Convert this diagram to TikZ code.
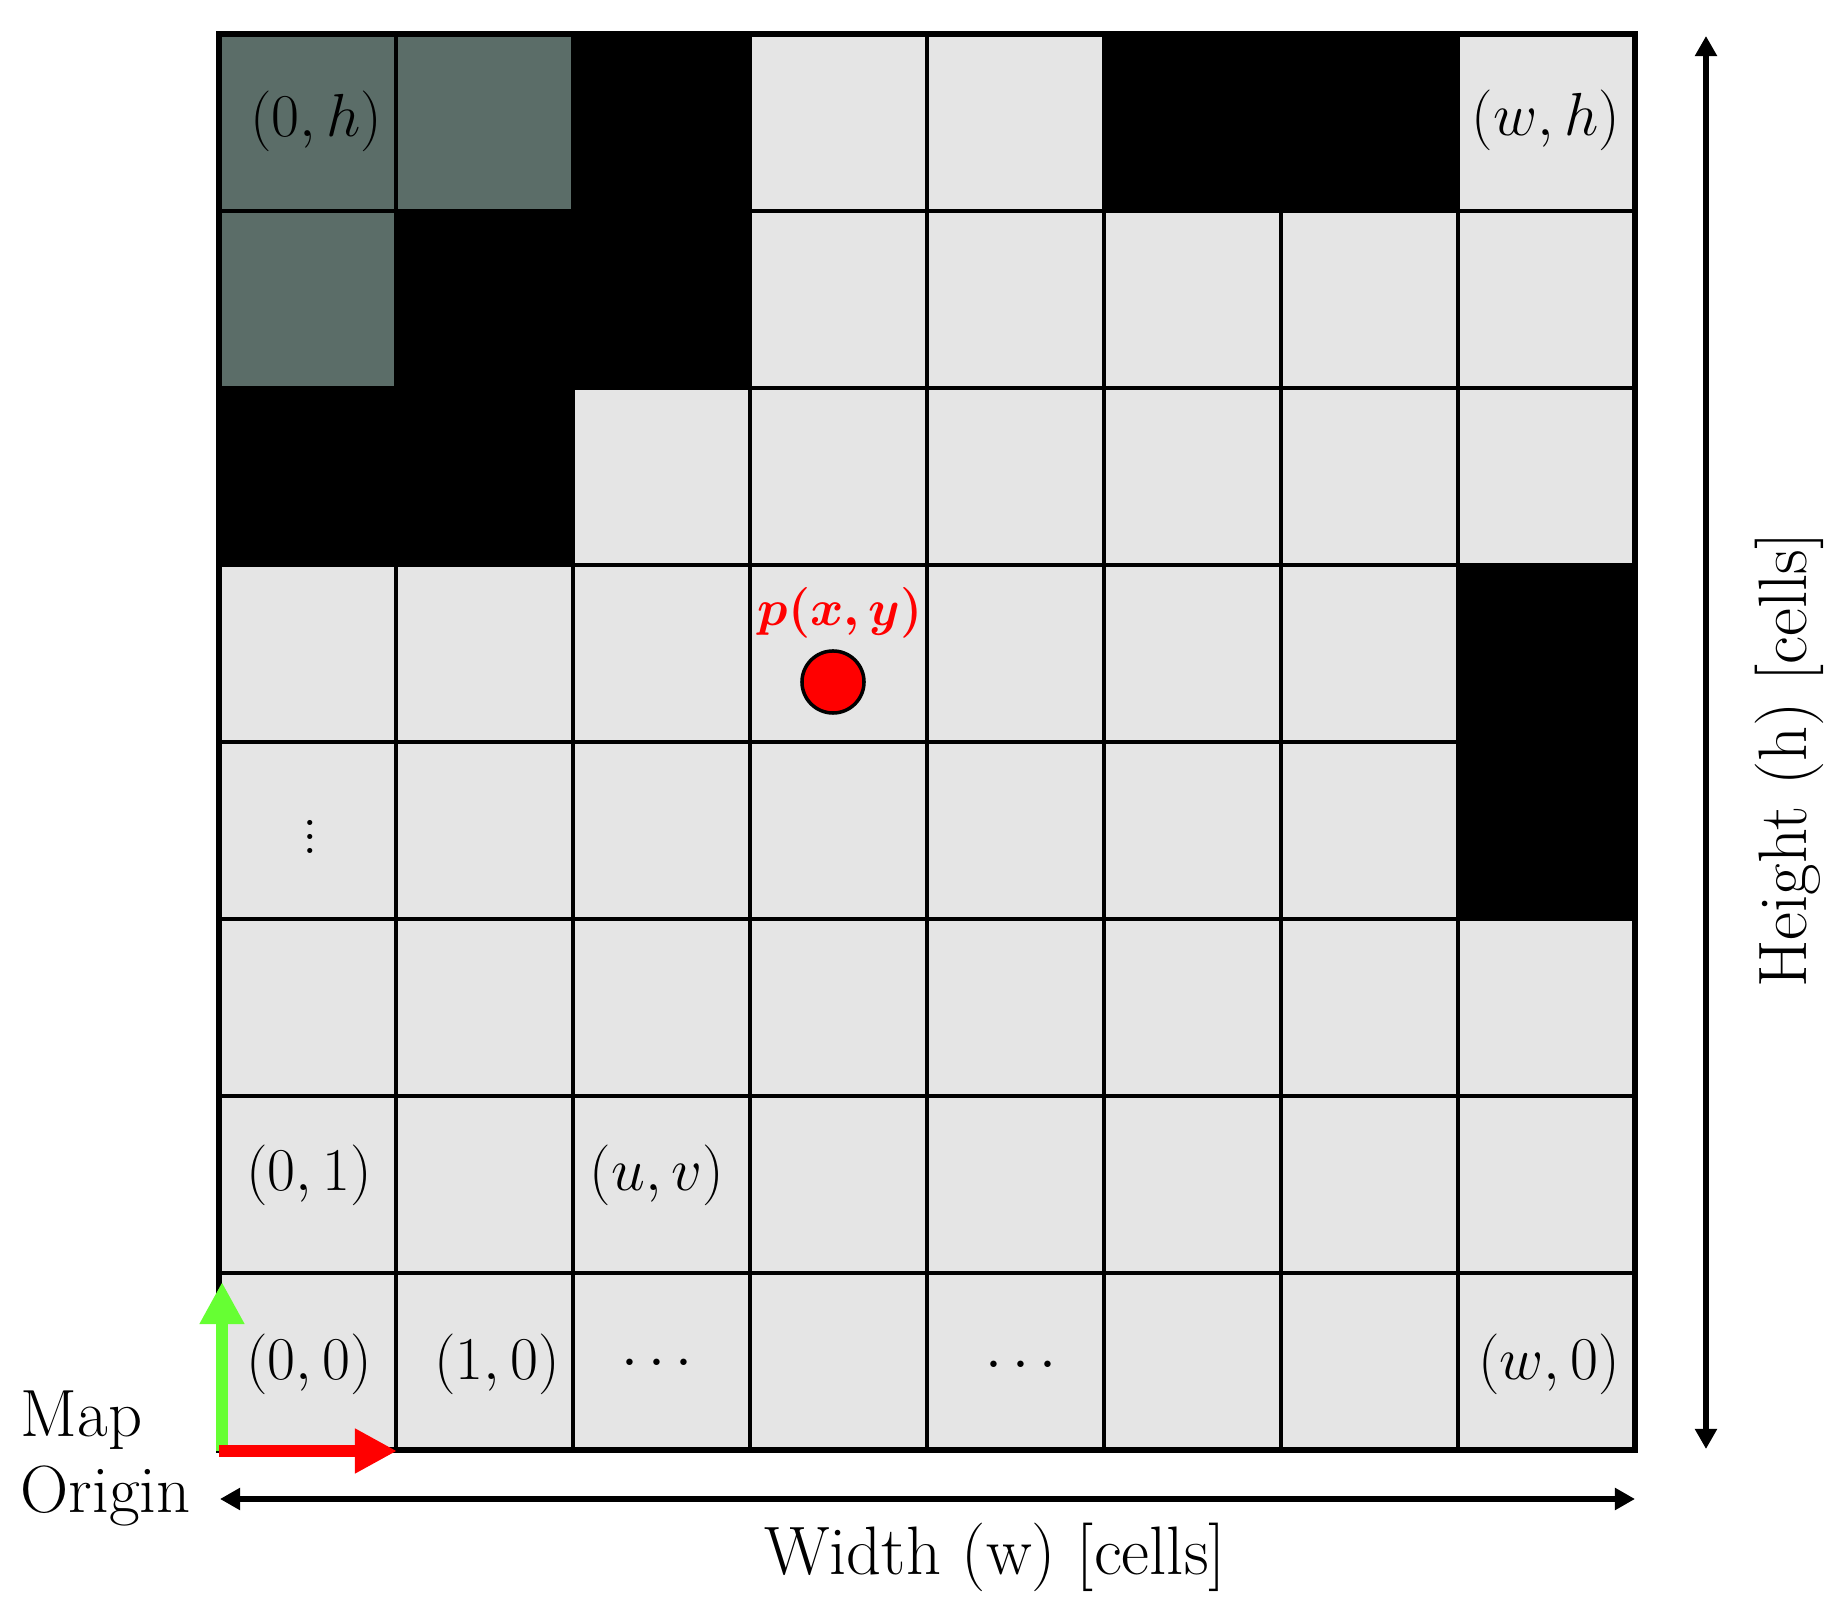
\documentclass[tikz,border=0pt]{standalone}
\usepackage{bm}
\usetikzlibrary{arrows.meta}
\definecolor{cellgray}{RGB}{229,229,229}
\definecolor{slategray}{RGB}{91,109,104}
\definecolor{axisgreen}{RGB}{102,255,51}
\begin{document}
\begin{tikzpicture}[x=0.01cm,y=-0.01cm,
  gridline/.style={line width=1.1pt,black},
  outerline/.style={line width=1.5pt,black},
  celllabel/.style={inner sep=0pt,font=\fontsize{17.6}{21}\selectfont},
  biglabel/.style={inner sep=0pt,font=\fontsize{19.5}{23}\selectfont},
  dimarrow/.style={line width=1.6pt,{Triangle[length=0.2cm,width=0.21cm]}-{Triangle[length=0.2cm,width=0.21cm]}},
  axisarrow/.style={line width=0.12cm,-{Triangle[length=0.42cm,width=0.42cm]}}]
\useasboundingbox (0,0) rectangle (1847,1616);
% background cells
\fill[cellgray] (219,34) rectangle (1635,1450);
% occupied cells
\foreach \c/\r in {2/0,5/0,6/0,1/1,2/1,0/2,1/2,7/3,7/4}
  \fill[black] ({219+177*\c},{34+177*\r}) rectangle +(177,177);
% visited cells
\foreach \c/\r in {0/0,1/0,0/1}
  \fill[slategray] ({219+177*\c},{34+177*\r}) rectangle +(177,177);
% grid lines
\foreach \i in {1,...,7} {
  \draw[gridline] ({219+177*\i},34) -- ({219+177*\i},1450);
  \draw[gridline] (219,{34+177*\i}) -- (1635,{34+177*\i});
}
\draw[outerline] (219,34) rectangle (1635,1450);
% cell labels
\node[celllabel] (l0h) at (316,121) {$(0,h)$};
\node[celllabel] (lwh) at (1546,120) {$(w,h)$};
\node[celllabel] (lvd) at (310,826) {$\vdots$};
\node[celllabel] (l01) at (309,1175) {$(0,1)$};
\node[celllabel] (luv) at (657,1175) {$(u,v)$};
\node[celllabel] (l00) at (309,1364) {$(0,0)$};
\node[celllabel] (l10) at (497,1364) {$(1,0)$};
\node[celllabel] (ld1) at (657,1364) {$\cdots$};
\node[celllabel] (ld2) at (1021,1366) {$\cdots$};
\node[celllabel] (lw0) at (1549,1364) {$(w,0)$};
% point
\node[inner sep=0pt,font=\fontsize{15.8}{19}\selectfont,text=red] (plabel) at (840,613) {$\bm{p(x,y)}$};
\node[circle,fill=red,draw=black,line width=1pt,minimum size=0.62cm,inner sep=0pt] (p) at (833,682) {};
% map origin axes
\coordinate (org) at (219,1451);
\coordinate (orgy) at (222,1451);
\coordinate (xtip) at (397,1451);
\coordinate (ytip) at (222,1282);
\draw[axisarrow,axisgreen] (orgy) -- (ytip);
\draw[axisarrow,red] (org) -- (xtip);
\node[biglabel,anchor=base west,font=\fontsize{19}{23}\selectfont] (map) at (20,1437) {Map};
\node[biglabel,anchor=base west,font=\fontsize{19}{23}\selectfont] (origin) at (20,1513) {Origin};
% dimension arrows
\coordinate (wl) at (220,1499);
\coordinate (wr) at (1635,1499);
\coordinate (ht) at (1706,36);
\coordinate (hb) at (1706,1449);
\draw[dimarrow] (wl) -- (wr);
\draw[dimarrow] (hb) -- (ht);
\node[biglabel] (wlabel) at (995,1557) {Width (w) [cells]};
\node[biglabel,rotate=90] (hlabel) at (1789,760) {Height (h) [cells]};
\end{tikzpicture}
\end{document}
